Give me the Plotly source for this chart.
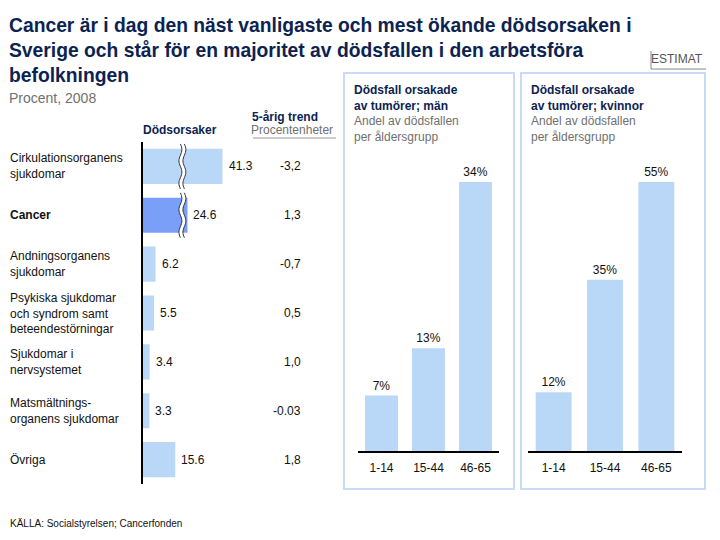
import numpy as np
import plotly.graph_objects as go

# ---------------- data ----------------
categories = [
    "Cirkulationsorganens<br>sjukdomar",
    "<b>Cancer</b>",
    "Andningsorganens<br>sjukdomar",
    "Psykiska sjukdomar<br>och syndrom samt<br>beteendestörningar",
    "Sjukdomar i<br>nervsystemet",
    "Matsmältnings-<br>organens sjukdomar",
    "Övriga",
]
death_share = [41.3, 24.6, 6.2, 5.5, 3.4, 3.3, 15.6]
trend_5y = ["-3,2", "1,3", "-0,7", "0,5", "1,0", "-0.03", "1,8"]
highlight = [False, True, False, False, False, False, False]

age_groups = ["1-14", "15-44", "46-65"]
men_tumor_share = [7, 13, 34]
women_tumor_share = [12, 35, 55]

# broken axis for the left chart
AXIS_BREAK = 19.0
BREAK_GAP = 3.2

# ---------------- styling ----------------
W, H = 720, 540
NAVY = "#0c2352"
GRAY = "#707070"
LIGHT = "#b9d8f8"
DARK = "#7a9ff9"
BORDER = "#c8ddf5"
FONT = "Liberation Sans, Arial, sans-serif"


def px(x):
    return x / W


def py(y):
    return 1 - y / H


display = [v if v < AXIS_BREAK else v - BREAK_GAP for v in death_share]
idx = list(range(len(categories)))

fig = go.Figure()

fig.add_trace(go.Bar(
    x=display, y=idx, orientation="h", width=0.72,
    marker=dict(color=[DARK if h else LIGHT for h in highlight], line=dict(width=0)),
    xaxis="x", yaxis="y", hoverinfo="skip",
))

for vals, xa, ya in [(men_tumor_share, "x2", "y2"), (women_tumor_share, "x3", "y3")]:
    fig.add_trace(go.Bar(
        x=age_groups, y=vals, width=0.7,
        marker=dict(color=LIGHT, line=dict(width=0)),
        text=[f"{v}%" for v in vals], textposition="outside",
        textfont=dict(size=12, color="#111", family=FONT),
        cliponaxis=False, xaxis=xa, yaxis=ya, hoverinfo="skip",
    ))

x_unit_px = 2.1
left_x0, left_x1 = 142.5, 300
fig.update_layout(
    width=W, height=H, margin=dict(l=0, r=0, t=0, b=0),
    paper_bgcolor="white", plot_bgcolor="white", showlegend=False,
    font=dict(family=FONT, size=12, color="#111"),
    xaxis=dict(domain=[px(left_x0), px(left_x1)], range=[0, (left_x1 - left_x0) / x_unit_px],
               visible=False, fixedrange=True),
    yaxis=dict(domain=[py(484), py(142)], range=[6.5, -0.5], showline=True, linecolor="black",
               linewidth=2, showticklabels=False, showgrid=False, zeroline=False, ticks=""),
    xaxis2=dict(domain=[px(358), px(499)], anchor="y2", showline=True, linecolor="black", linewidth=2,
                ticks="", showgrid=False, tickfont=dict(size=12, color="#111"), ticklabelstandoff=5),
    yaxis2=dict(domain=[py(451), py(182)], range=[0, max(men_tumor_share)], visible=False),
    xaxis3=dict(domain=[px(528), px(682)], anchor="y3", showline=True, linecolor="black", linewidth=2,
                ticks="", showgrid=False, tickfont=dict(size=12, color="#111"), ticklabelstandoff=5),
    yaxis3=dict(domain=[py(451), py(182)], range=[0, max(women_tumor_share)], visible=False),
    bargap=0.3,
)

ann = []
shapes = []

# title
ann.append(dict(x=px(7), y=py(13), xref="paper", yref="paper", xanchor="left", yanchor="top",
                align="left", showarrow=False,
                text="<b>Cancer är i dag den näst vanligaste och mest ökande dödsorsaken i<br>"
                     "Sverige och står för en majoritet av dödsfallen i den arbetsföra<br>befolkningen</b>",
                font=dict(size=19.3, color=NAVY)))
ann.append(dict(x=px(7), y=py(98), xref="paper", yref="paper", xanchor="left", yanchor="middle",
                showarrow=False, text="Procent, 2008", font=dict(size=14, color=GRAY)))

# ESTIMAT
ann.append(dict(x=px(705), y=py(59), xref="paper", yref="paper", xanchor="right", yanchor="middle",
                showarrow=False, text="ESTIMAT", font=dict(size=12, color="#555")))
shapes.append(dict(type="line", xref="paper", yref="paper", x0=px(651), x1=px(651), y0=py(51), y1=py(69),
                   line=dict(color="#888", width=1)))
shapes.append(dict(type="line", xref="paper", yref="paper", x0=px(651), x1=px(706), y0=py(69), y1=py(69),
                   line=dict(color="#888", width=1)))

# column headers
ann.append(dict(x=px(180), y=py(130), xref="paper", yref="paper", xanchor="center", yanchor="middle",
                showarrow=False, text="<b>Dödsorsaker</b>", font=dict(size=12, color=NAVY)))
ann.append(dict(x=px(320), y=py(117), xref="paper", yref="paper", xanchor="right", yanchor="middle",
                showarrow=False, text="<b>5-årig trend</b>", font=dict(size=12, color=NAVY)))
ann.append(dict(x=px(335), y=py(130), xref="paper", yref="paper", xanchor="right", yanchor="middle",
                showarrow=False, text="Procentenheter", font=dict(size=12, color=GRAY)))
shapes.append(dict(type="line", xref="paper", yref="paper", x0=px(253), x1=px(336), y0=py(138), y1=py(138),
                   line=dict(color="#999", width=1)))

# category labels, values, trend
for i, (cat, v, d, t) in enumerate(zip(categories, death_share, display, trend_5y)):
    ann.append(dict(x=px(8), y=i, xref="paper", yref="y", xanchor="left", yanchor="middle", align="left",
                    showarrow=False, text=cat, font=dict(size=12, color="#111")))
    ann.append(dict(x=d, y=i, xref="x", yref="y", xanchor="left", yanchor="middle", xshift=4,
                    showarrow=False, text=f"{v}", font=dict(size=12, color="#111")))
    ann.append(dict(x=px(303), y=i, xref="paper", yref="y", xanchor="right", yanchor="middle",
                    showarrow=False, text=t, font=dict(size=12, color="#111")))

# break marks on the broken bars
amp = 0.7
sep = 0.95
half = 0.46
tt = np.linspace(0, 1, 33)
for i, v in enumerate(death_share):
    if v < AXIS_BREAK:
        continue
    ys = i - half + 2 * half * tt
    wave = amp * np.sin(2 * np.pi * 2 * tt)
    xl = AXIS_BREAK - sep + wave
    xr = AXIS_BREAK + sep + wave
    fill = "M " + " L ".join(f"{a:.3f},{b:.3f}" for a, b in zip(xl, ys))
    fill += " L " + " L ".join(f"{a:.3f},{b:.3f}" for a, b in zip(xr[::-1], ys[::-1])) + " Z"
    shapes.append(dict(type="path", xref="x", yref="y", path=fill, fillcolor="white",
                       line=dict(width=0)))
    for xs in (xl, xr):
        p = "M " + " L ".join(f"{a:.3f},{b:.3f}" for a, b in zip(xs, ys))
        shapes.append(dict(type="path", xref="x", yref="y", path=p, line=dict(color="#333", width=1)))

# panels
panels = [
    (344, 514, "Dödsfall orsakade<br>av tumörer; män"),
    (521, 705, "Dödsfall orsakade<br>av tumörer; kvinnor"),
]
for x0, x1, head in panels:
    shapes.append(dict(type="rect", xref="paper", yref="paper", x0=px(x0), x1=px(x1), y0=py(489), y1=py(73),
                       line=dict(color=BORDER, width=2), fillcolor="rgba(0,0,0,0)", layer="below"))
    ann.append(dict(x=px(x0 + 8), y=py(81), xref="paper", yref="paper", xanchor="left", yanchor="top",
                    align="left", showarrow=False,
                    text=f"<b><span style='color:{NAVY}'>{head}</span></b><br>"
                         f"<span style='color:{GRAY}'>Andel av dödsfallen<br>per åldersgrupp</span>",
                    font=dict(size=12)))

# source
ann.append(dict(x=px(8), y=py(523), xref="paper", yref="paper", xanchor="left", yanchor="middle",
                showarrow=False, text="KÄLLA: Socialstyrelsen; Cancerfonden", font=dict(size=10, color="#111")))

fig.update_layout(annotations=ann, shapes=shapes)
fig.write_html("out.html")
